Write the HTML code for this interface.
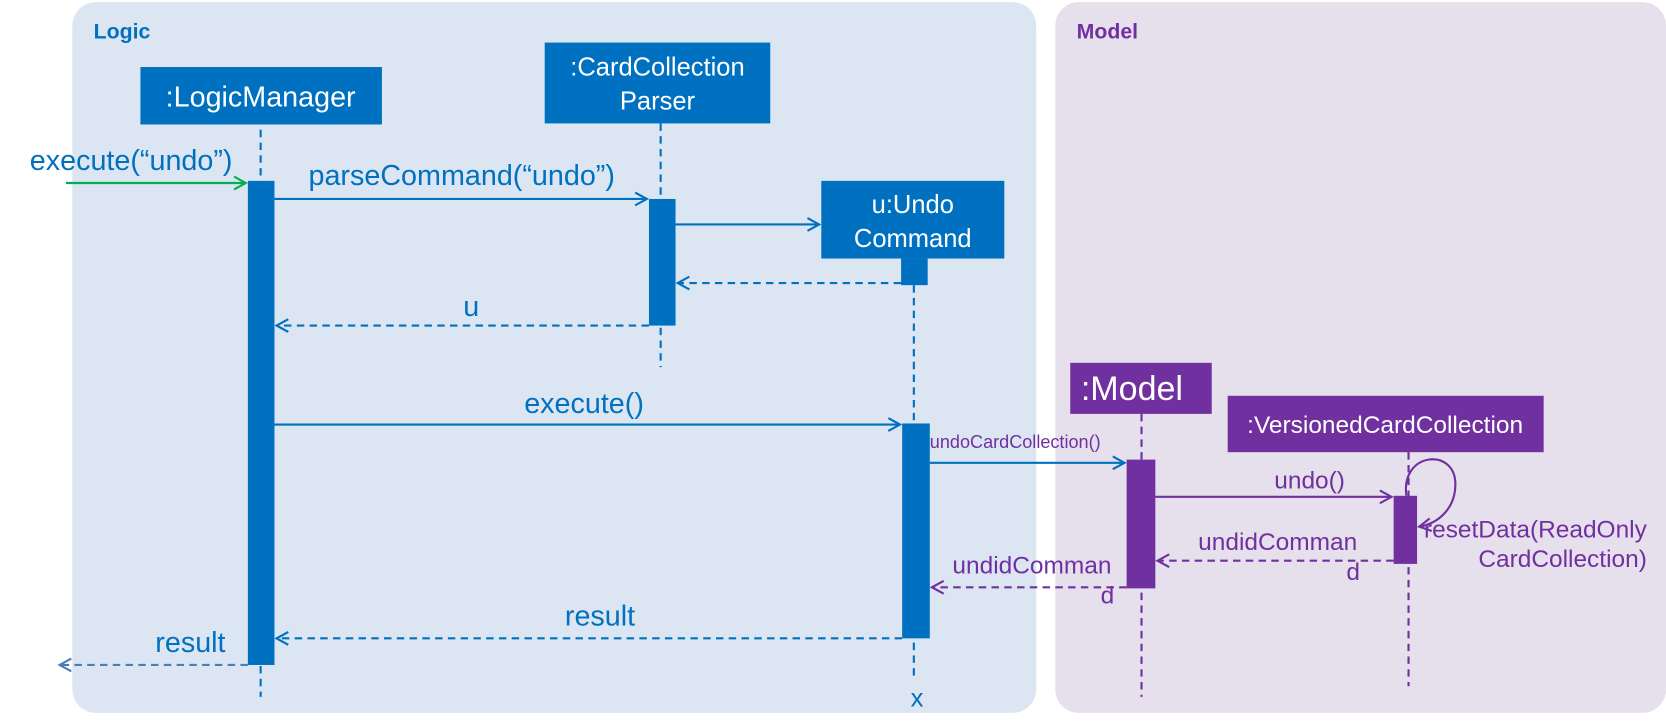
<!DOCTYPE html>
<html><head><meta charset="utf-8"><style>
html,body{margin:0;padding:0;background:#fff;}
svg{display:block;}
text{font-family:"Liberation Sans",sans-serif;}
</style></head><body>
<svg width="1666" height="722" viewBox="0 0 1566 678.6" preserveAspectRatio="none" xmlns="http://www.w3.org/2000/svg">
<defs>
<marker id="ab" markerWidth="14" markerHeight="14" refX="12" refY="7" orient="auto" markerUnits="userSpaceOnUse"><path d="M1,1 L12,7 L1,13" fill="none" stroke="#0070c0" stroke-width="2"/></marker>
<marker id="ag" markerWidth="14" markerHeight="14" refX="12" refY="7" orient="auto" markerUnits="userSpaceOnUse"><path d="M1,1 L12,7 L1,13" fill="none" stroke="#00b050" stroke-width="2"/></marker>
<marker id="ap" markerWidth="14" markerHeight="14" refX="12" refY="7" orient="auto" markerUnits="userSpaceOnUse"><path d="M1,1 L12,7 L1,13" fill="none" stroke="#7030a0" stroke-width="2"/></marker>
<marker id="al" markerWidth="14" markerHeight="14" refX="12" refY="7" orient="auto" markerUnits="userSpaceOnUse"><path d="M1,1 L12,7 L1,13" fill="none" stroke="#4a7ebb" stroke-width="2"/></marker>
</defs>
<rect x="68" y="2" width="906" height="668" rx="22" fill="#dce6f2"/>
<rect x="992" y="2" width="574" height="668" rx="22" fill="#e6e0ec"/>
<text x="88" y="36" font-size="20" font-weight="bold" fill="#0070c0">Logic</text>
<text x="1012" y="36" font-size="20" font-weight="bold" fill="#7030a0">Model</text>

<g stroke-width="2" stroke-dasharray="7,5" fill="none">
<line x1="245" y1="122" x2="245" y2="655" stroke="#0070c0"/>
<line x1="621" y1="116" x2="621" y2="345" stroke="#0070c0"/>
<line x1="859" y1="268" x2="859" y2="635" stroke="#0070c0"/>
<line x1="1073" y1="389" x2="1073" y2="655" stroke="#7030a0"/>
<line x1="1324" y1="425" x2="1324" y2="645" stroke="#7030a0"/>
</g>

<rect x="132" y="63" width="227" height="54" fill="#0070c0"/>
<text x="245" y="100" font-size="27" fill="#fff" text-anchor="middle">:LogicManager</text>
<rect x="512" y="40" width="212" height="76" fill="#0070c0"/>
<text x="618" y="71" font-size="24" fill="#fff" text-anchor="middle">:CardCollection</text>
<text x="618" y="103" font-size="24" fill="#fff" text-anchor="middle">Parser</text>
<rect x="772" y="170" width="172" height="73" fill="#0070c0"/>
<text x="858" y="200" font-size="24" fill="#fff" text-anchor="middle">u:Undo</text>
<text x="858" y="232" font-size="24" fill="#fff" text-anchor="middle">Command</text>
<rect x="1006" y="341" width="133" height="48" fill="#7030a0"/>
<text x="1064" y="376" font-size="32" fill="#fff" text-anchor="middle">:Model</text>
<rect x="1154" y="372" width="297" height="53" fill="#7030a0"/>
<text x="1302" y="407" font-size="23" fill="#fff" text-anchor="middle">:VersionedCardCollection</text>

<rect x="233" y="170" width="25" height="455" fill="#0070c0"/>
<rect x="610" y="187" width="25" height="119" fill="#0070c0"/>
<rect x="847" y="243" width="25" height="25" fill="#0070c0"/>
<rect x="848" y="398" width="26" height="202" fill="#0070c0"/>
<rect x="1059" y="432" width="27" height="121" fill="#7030a0"/>
<rect x="1310" y="466" width="22" height="64" fill="#7030a0"/>

<g stroke-width="2" fill="none">
<line x1="62" y1="172" x2="231" y2="172" stroke="#00b050" marker-end="url(#ag)"/>
<line x1="258" y1="187" x2="608" y2="187" stroke="#0070c0" marker-end="url(#ab)"/>
<line x1="635" y1="211" x2="770" y2="211" stroke="#0070c0" marker-end="url(#ab)"/>
<line x1="847" y1="266" x2="637" y2="266" stroke="#0070c0" stroke-dasharray="7,5" marker-end="url(#ab)"/>
<line x1="610" y1="306" x2="260" y2="306" stroke="#0070c0" stroke-dasharray="7,5" marker-end="url(#ab)"/>
<line x1="258" y1="399" x2="846" y2="399" stroke="#0070c0" marker-end="url(#ab)"/>
<line x1="874" y1="435" x2="1057" y2="435" stroke="#0070c0" marker-end="url(#ab)"/>
<line x1="1086" y1="467" x2="1308" y2="467" stroke="#7030a0" marker-end="url(#ap)"/>
<path d="M1322,466 C1316,425 1368,420 1368,455 C1368,478 1352,492 1334,495" stroke="#7030a0" marker-end="url(#ap)"/>
<line x1="1310" y1="527" x2="1088" y2="527" stroke="#7030a0" stroke-dasharray="7,5" marker-end="url(#ap)"/>
<line x1="1059" y1="552" x2="876" y2="552" stroke="#7030a0" stroke-dasharray="7,5" marker-end="url(#ap)"/>
<line x1="848" y1="600" x2="260" y2="600" stroke="#0070c0" stroke-dasharray="7,5" marker-end="url(#ab)"/>
<line x1="233" y1="625" x2="56" y2="625" stroke="#4a7ebb" stroke-dasharray="7,5" marker-end="url(#al)"/>
</g>

<g font-size="27" fill="#0070c0">
<text x="28" y="160">execute(“undo”)</text>
<text x="434" y="174" text-anchor="middle">parseCommand(“undo”)</text>
<text x="443" y="297" text-anchor="middle">u</text>
<text x="549" y="388" text-anchor="middle">execute()</text>
<text x="564" y="588" text-anchor="middle">result</text>
<text x="179" y="613" text-anchor="middle">result</text>
<text x="862" y="664" text-anchor="middle" font-size="24">x</text>
</g>
<g fill="#7030a0">
<text x="874" y="421" font-size="17">undoCardCollection()</text>
<text x="1231" y="459" font-size="23" text-anchor="middle">undo()</text>
<text x="1548" y="505" font-size="23" text-anchor="end">resetData(ReadOnly</text>
<text x="1548" y="533" font-size="23" text-anchor="end">CardCollection)</text>
<text x="1201" y="517" font-size="23" text-anchor="middle">undidComman</text>
<text x="1272" y="545" font-size="23" text-anchor="middle">d</text>
<text x="970" y="539" font-size="23" text-anchor="middle">undidComman</text>
<text x="1041" y="567" font-size="23" text-anchor="middle">d</text>
</g>
</svg>
</body></html>
